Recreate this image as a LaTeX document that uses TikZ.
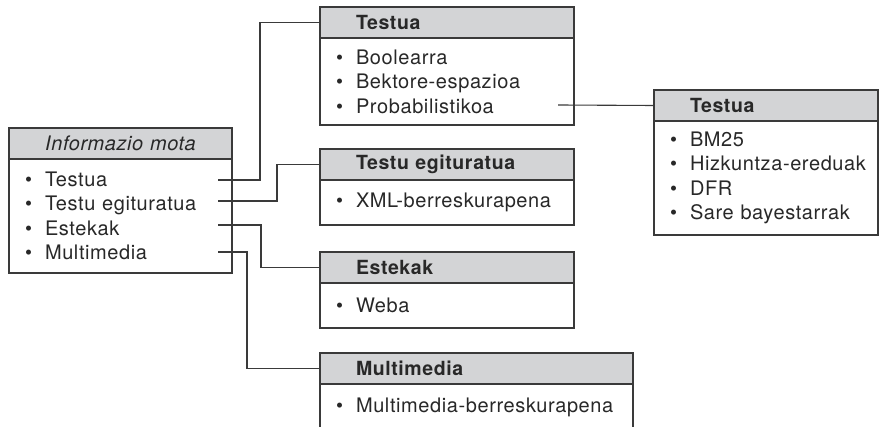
\documentclass[tikz,border=0pt]{standalone}
\usepackage{fontspec}
\setmainfont{TeX Gyre Heros}[LetterSpace=3]
\usetikzlibrary{positioning}

\definecolor{headgray}{RGB}{211,212,214}
\definecolor{boxline}{RGB}{58,58,58}
\definecolor{inkgray}{RGB}{40,40,40}
\newcommand{\itm}[1]{\mbox{\textbullet\hspace{13pt}#1}}

\begin{document}
\begin{tikzpicture}[
    x=1pt, y=-1pt,
    head/.style={draw=boxline, fill=headgray, line width=1.2pt, outer sep=0pt,
                 anchor=north west, minimum height=31pt, inner ysep=0pt,
                 inner xsep=36pt, text width=#1, align=left, text=inkgray,
                 font=\fontsize{19.5}{22}\selectfont\bfseries},
    body/.style={draw=boxline, fill=white, line width=1.2pt, outer sep=0pt,
                 inner xsep=16pt, inner ysep=0pt, text width=#1, align=left,
                 text=inkgray, font=\fontsize{20}{24.5}\selectfont},
    link/.style={draw=boxline, line width=1.1pt},
  ]
  \useasboundingbox (0,0) rectangle (879,427);
  \clip (0,0) rectangle (879,427);

  % type of information
  \node[head=205pt, inner xsep=9pt, align=center,
        font=\fontsize{20}{22}\selectfont\itshape] (infoH) at (9,128) {Informazio mota};
  \node[body=191pt, minimum height=114pt, below=0pt of infoH] (infoB)
    {\itm{Testua}\\ \itm{Testu egituratua}\\ \itm{Estekak}\\ \itm{Multimedia}};

  % one box per type
  \node[head=182pt] (testuH) at (320,7) {Testua};
  \node[body=222pt, minimum height=87pt, below=0pt of testuH] (testuB)
    {\itm{Boolearra}\\ \itm{Bektore-espazioa}\\ \itm{Probabilistikoa}};
  \node[head=182pt] (egitH) at (320,149) {Testu egituratua};
  \node[body=222pt, minimum height=45pt, below=0pt of egitH] (egitB)
    {\itm{XML-berreskurapena}};
  \node[head=182pt] (estekH) at (320,252) {Estekak};
  \node[body=222pt, minimum height=45pt, below=0pt of estekH] (estekB)
    {\itm{Weba}};
  \node[head=241pt] (multiH) at (320,353) {Multimedia};
  \node[body=281pt, minimum height=46pt, below=0pt of multiH] (multiB)
    {\itm{Multimedia-berreskurapena}};

  % probabilistic models
  \node[head=152pt] (probH) at (654,90) {Testua};
  \node[body=192pt, minimum height=114pt, below=0pt of probH] (probB)
    {\itm{BM25}\\ \itm{Hizkuntza-ereduak}\\ \itm{DFR}\\ \itm{Sare bayestarrak}};

  \coordinate (fTestua) at (218,180);
  \coordinate (fEgit) at (218,201);
  \coordinate (fEstek) at (218,225);
  \coordinate (fMulti) at (218,252);
  \coordinate (fProb) at (558,105);

  \draw[link] (fTestua) -- ++(42,0) |- (testuH.west);
  \draw[link] (fEgit) -- ++(59,0) |- (egitH.west);
  \draw[link] (fEstek) -- ++(43,0) |- (estekH.west);
  \draw[link] (fMulti) -- ++(29,0) |- (multiH.west);
  \draw[link] (fProb) -- (probH.west);
\end{tikzpicture}
\end{document}
